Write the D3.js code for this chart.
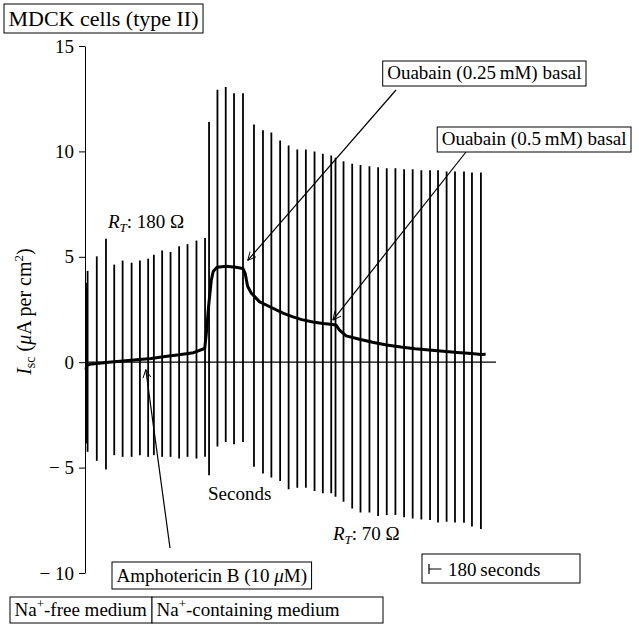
<!DOCTYPE html>
<html>
<head>
<meta charset="utf-8">
<script src="https://cdn.jsdelivr.net/npm/d3@7"></script>
<style>
  body { margin: 0; background: #fff; }
</style>
</head>
<body>
<div id="chart"></div>
<script>
// pulse times (s) and the top / bottom of each current deflection
const pulseTimes = [30, 55, 250, 445, 620, 798, 989, 1165, 1340, 1461, 1637, 1815, 1997, 2175, 2365, 2547,
  2632, 2810, 2986, 3162, 3352, 3585, 3776, 3954, 4140, 4320, 4504, 4686, 4870, 5046, 5224, 5315,
  5485, 5669, 5845, 6035, 6219, 6402, 6586, 6770, 6952, 7136, 7321, 7490, 7672, 7850, 8041, 8210, 8400];
const pulseTop = [3.76, 4.33, 5.02, 5.86, 4.63, 4.82, 4.72, 4.82, 4.91, 5.1, 5.3, 5.23, 5.5, 5.6, 5.77, 5.89,
  11.39, 12.92, 13.05, 12.76, 12.76, 11.28, 11.0, 10.9, 10.52, 10.28, 10.09, 10.09, 10.0, 9.89, 9.81, 9.7,
  9.53, 9.42, 9.35, 9.3, 9.25, 9.2, 9.2, 9.15, 9.15, 9.1, 9.1, 9.1, 9.05, 9.05, 9.05, 9.0, 9.0];
const pulseBottom = [-3.85, -4.25, -4.68, -5.09, -4.41, -4.49, -4.49, -4.41, -4.49, -4.41, -4.49, -4.49, -4.57, -4.49, -4.57, -4.49,
  -5.36, -4.0, -3.78, -3.89, -3.78, -4.96, -5.28, -5.47, -5.64, -6.03, -5.96, -5.96, -6.11, -6.22, -6.22, -6.38,
  -6.62, -6.94, -7.13, -7.13, -7.3, -7.25, -7.25, -7.36, -7.41, -7.46, -7.49, -7.6, -7.57, -7.6, -7.62, -7.8, -7.91];

// baseline short-circuit current trace (s, uA/cm2)
const traceTimes = [20, 40, 100, 300, 500, 800, 1100, 1400, 1700, 2000, 2300, 2540, 2580, 2620, 2680, 2720,
  2800, 3000, 3200, 3350, 3400, 3450, 3530, 3706, 3988, 4200, 4412, 4600, 4835, 5050, 5259, 5330,
  5400, 5541, 5824, 6100, 6400, 6700, 7000, 7300, 7600, 7900, 8200, 8400, 8500];
const traceValues = [-0.35, -0.15, -0.1, -0.05, 0.0, 0.06, 0.12, 0.18, 0.27, 0.35, 0.45, 0.65, 1.5, 2.6, 3.9, 4.3,
  4.5, 4.55, 4.5, 4.45, 4.2, 3.6, 3.27, 2.86, 2.56, 2.33, 2.15, 2.02, 1.91, 1.84, 1.79, 1.75,
  1.52, 1.25, 1.09, 0.95, 0.82, 0.72, 0.64, 0.58, 0.52, 0.46, 0.41, 0.37, 0.38];

const yTicks = [-10, -5, 0, 5, 10, 15];
const legendNames = ["-free medium", "-containing medium"];

const W = 639, H = 636;
const FONT = "Liberation Serif";
const FS = "19px";
const svg = d3.select("#chart").append("svg")
  .attr("width", W).attr("height", H)
  .attr("font-family", FONT);

const x = d3.scaleLinear().domain([0, 8720]).range([85, 496]);
const y = d3.scaleLinear().domain([-10, 15]).range([573, 46]);

// y axis
const yAxis = svg.append("g")
  .attr("transform", "translate(85,0)")
  .call(d3.axisLeft(y).tickValues(yTicks).tickSize(6).tickSizeOuter(0).tickPadding(5)
    .tickFormat(d => d < 0 ? "\u2212 " + Math.abs(d) : d));
yAxis.attr("font-family", FONT);
yAxis.selectAll("text").attr("font-size", "19px").attr("fill", "#000");
yAxis.selectAll("line,path").attr("stroke", "#000").attr("stroke-width", 1);

// zero line
svg.append("line")
  .attr("x1", x(0)).attr("x2", x(8720))
  .attr("y1", y(0)).attr("y2", y(0))
  .attr("stroke", "#000").attr("stroke-width", 1.2);

// pulses
svg.selectAll(".pulse")
  .data(pulseTimes)
  .enter()
  .append("line")
  .attr("class", "pulse")
  .attr("x1", d => x(d)).attr("x2", d => x(d))
  .attr("y1", (d, i) => y(pulseTop[i]))
  .attr("y2", (d, i) => y(pulseBottom[i]))
  .attr("stroke", "#000").attr("stroke-width", 1.8);

// trace
const line = d3.line().x(d => x(d[0])).y(d => y(d[1]));
svg.append("path")
  .datum(traceTimes.map((t, i) => [t, traceValues[i]]))
  .attr("d", line)
  .attr("fill", "none").attr("stroke", "#000").attr("stroke-width", 3)
  .attr("stroke-linejoin", "round");

// arrow helper: open arrowhead at the tip
function arrow(x0, y0, x1, y1) {
  svg.append("line").attr("x1", x0).attr("y1", y0).attr("x2", x1).attr("y2", y1)
    .attr("stroke", "#000").attr("stroke-width", 1.2);
  const a = Math.atan2(y0 - y1, x0 - x1), L = 9, s = 0.45;
  svg.append("path")
    .attr("d", `M${x1 + L * Math.cos(a + s)},${y1 + L * Math.sin(a + s)}L${x1},${y1}L${x1 + L * Math.cos(a - s)},${y1 + L * Math.sin(a - s)}`)
    .attr("fill", "none").attr("stroke", "#000").attr("stroke-width", 1);
}

// boxed label sized to its text; anchor "end" puts the right edge at bx
function boxText(bx, by, bh, html, fs, anchor, fixedW) {
  const g = svg.append("g");
  const rect = g.append("rect").attr("y", by).attr("height", bh)
    .attr("fill", "#fff").attr("stroke", "#000").attr("stroke-width", 1);
  const t = g.append("text").attr("y", by + bh - 7)
    .attr("font-size", fs || FS).attr("fill", "#000");
  t.html(html);
  const w = fixedW || t.node().getComputedTextLength() + 9;
  const left = anchor === "end" ? bx - w : bx;
  rect.attr("x", left).attr("width", w);
  t.attr("x", left + 4.5);
  return g;
}

// title
boxText(4, 4, 29, "MDCK cells (type II)", "22px");

// y label
svg.append("text")
  .attr("transform", `translate(31,${y(2.4)}) rotate(-90)`)
  .attr("text-anchor", "middle").attr("font-size", "20px")
  .html('<tspan font-style="italic">I</tspan><tspan font-size="14px" dy="4">sc</tspan><tspan dy="-4"> (</tspan><tspan font-style="italic">μ</tspan>A per cm<tspan font-size="13px" dy="-8">2</tspan><tspan dy="8">)</tspan>');

// ouabain annotations
arrow(396, 90, x(3452), y(4.83));
boxText(586, 61, 25, "Ouabain (0.25\u2009mM) basal", FS, "end");
arrow(466, 152, x(5260), y(2.0));
boxText(631, 127, 25, "Ouabain (0.5\u2009mM) basal", FS, "end");

// amphotericin
arrow(170, 548, x(1290), y(-0.35));
boxText(112, 562, 27, 'Amphotericin B (10 <tspan font-style="italic">μ</tspan>M)', FS);

// R_T labels
svg.append("text").attr("x", 108).attr("y", 228).attr("font-size", FS)
  .html('<tspan font-style="italic">R</tspan><tspan font-style="italic" font-size="13px" dy="4">T</tspan><tspan dy="-4">: 180 Ω</tspan>');
svg.append("text").attr("x", 333).attr("y", 540).attr("font-size", FS)
  .html('<tspan font-style="italic">R</tspan><tspan font-style="italic" font-size="13px" dy="4">T</tspan><tspan dy="-4">: 70 Ω</tspan>');

svg.append("text").attr("x", 208).attr("y", 500).attr("font-size", FS).text("Seconds");

// 180 s scale bar
svg.append("rect").attr("x", 422).attr("y", 554).attr("width", 158).attr("height", 29)
  .attr("fill", "#fff").attr("stroke", "#000");
const sbx = 429, sby = 569;
svg.append("path")
  .attr("d", `M${sbx},${sby - 5}V${sby + 5}M${sbx},${sby}H${sbx + x(180) - x(0) + 4}`)
  .attr("stroke", "#000").attr("stroke-width", 1.2).attr("fill", "none");
svg.append("text").attr("x", 448).attr("y", 576).attr("font-size", FS).text("180\u2009seconds");

// medium legend
const legendW = [142, 231];
let lx = 10;
legendNames.forEach((name, i) => {
  boxText(lx, 597, 26, `Na<tspan font-size="13px" dy="-8">+</tspan><tspan dy="8">${name}</tspan>`, FS, "start", legendW[i]);
  lx += legendW[i];
});
</script>
</body>
</html>
